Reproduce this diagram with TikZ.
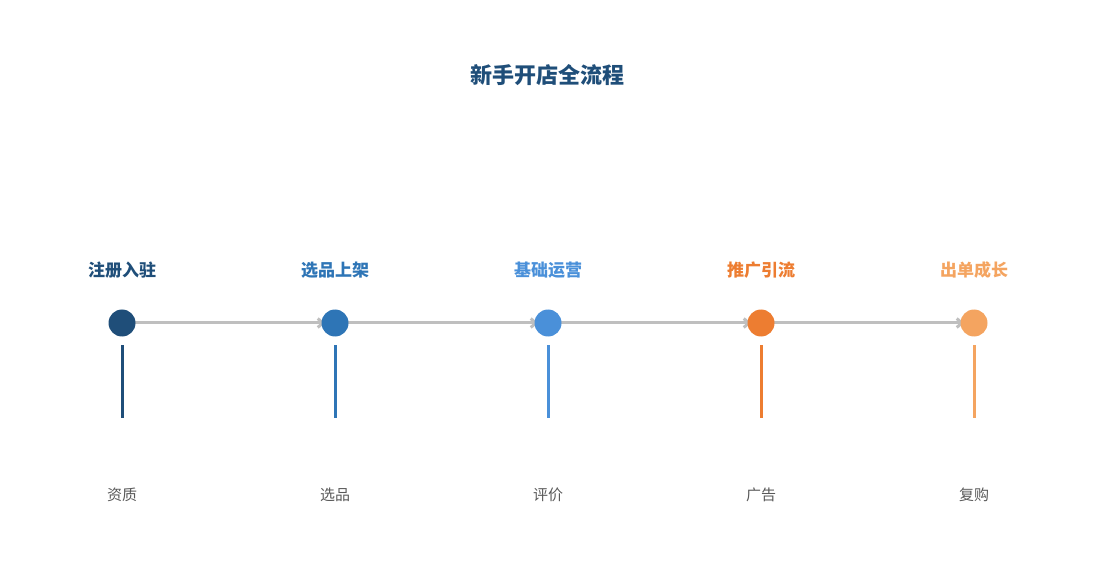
\documentclass[tikz,border=0pt]{standalone}
\usepackage{fontspec}
\setmainfont{Noto Sans CJK SC}
\usetikzlibrary{arrows.meta}
\definecolor{c1}{HTML}{1F4E79}
\definecolor{c2}{HTML}{2E75B6}
\definecolor{c3}{HTML}{4A90D9}
\definecolor{c4}{HTML}{ED7D31}
\definecolor{c5}{HTML}{F4A460}
\definecolor{ttl}{HTML}{1F4E79}
\definecolor{lnk}{HTML}{BFBFBF}
\definecolor{sub}{HTML}{595959}
\begin{document}
\begin{tikzpicture}[x=1pt,y=-1pt,
  dot/.style={circle,fill=#1,minimum size=27pt,inner sep=0pt},
  stage/.style={text=#1,font=\fontsize{17}{20}\selectfont\bfseries},
  stem/.style={draw=#1,line width=3pt},
  sub/.style={text=sub,font=\fontsize{15}{18}\selectfont},
  link/.style={draw=lnk,line width=3pt,-{Straight Barb[length=5pt,width=9pt]},shorten >=-3pt}]
\useasboundingbox (0,0) rectangle (1095,585);
\node[text=ttl,font=\fontsize{22}{26}\selectfont\bfseries] (title) at (547,75) {新手开店全流程};
\foreach \i/\x/\c/\s/\b in {1/122/c1/注册入驻/资质/类目,2/335/c2/选品上架/选品/listing,3/548/c3/基础运营/评价/客服,4/761/c4/推广引流/广告/活动,5/974/c5/出单成长/复购/放大}{
  \node[stage=\c] (s\i) at (\x,270) {\s};
  \coordinate (t\i) at (\x,345);
  \coordinate (u\i) at (\x,418);
  \draw[stem=\c] (t\i) -- (u\i);
  \node[sub] (b\i) at (\x,495) {\b};
}
\foreach \i/\x in {1/122,2/335,3/548,4/761,5/974}{
  \coordinate (p\i) at (\x,323);
}
\foreach \i/\j in {1/2,2/3,3/4,4/5}{
  \draw[link] (p\i) -- ([xshift=-13pt]p\j);
}
\foreach \i/\x/\c in {1/122/c1,2/335/c2,3/548/c3,4/761/c4,5/974/c5}{
  \node[dot=\c] (d\i) at (\x,323) {};
}
\end{tikzpicture}
\end{document}
